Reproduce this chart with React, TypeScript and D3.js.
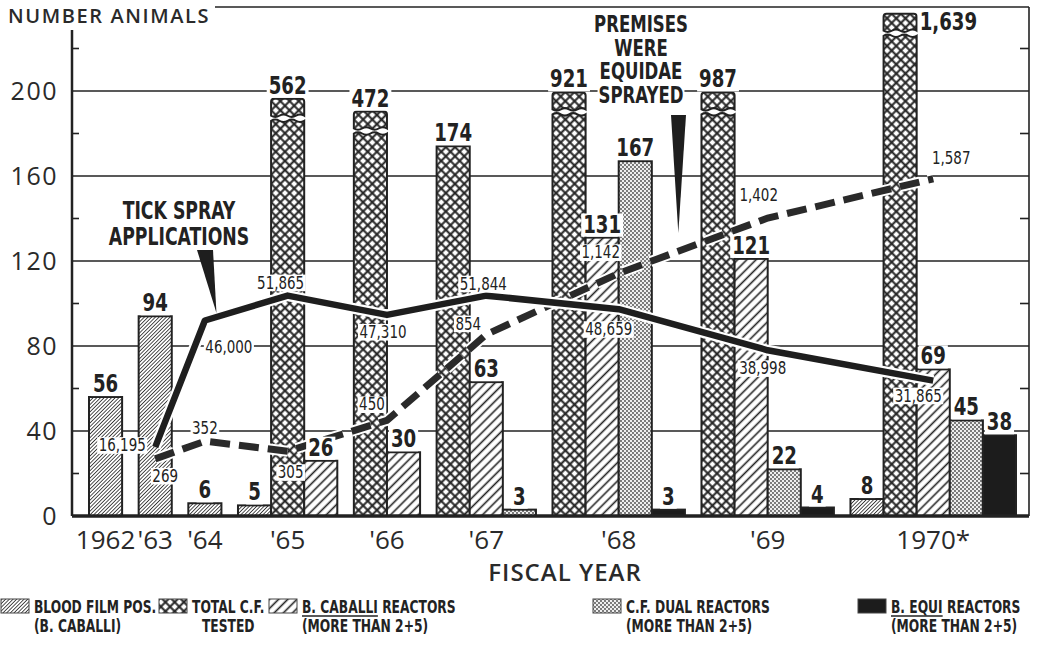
import React, { useEffect, useRef } from "react";
import * as d3 from "d3";

const W = 1062;
const H = 648;

// fiscal years on the x axis
const years = ["1962", "'63", "'64", "'65", "'66", "'67", "'68", "'69", "1970*"];

// bar series (number of animals), null = no bar that year
const bloodFilmPos = [56, 94, 6, 5, null, null, null, null, 8];
const totalCFTested = [null, null, null, 562, 472, 174, 921, 987, 1639];
// visible height (axis units) where the off-scale C.F. bars are broken
const totalCFBreak = [null, null, null, 186, 180, null, 189, 189, 226];
const caballiReactors = [null, null, null, 26, 30, 63, 131, 121, 69];
const cfDualReactors = [null, null, null, null, null, 3, 167, 22, 45];
const equiReactors = [null, null, null, null, null, null, 3, 4, 38];

// line series, plotted on their own scales
const tickSprayApps = [null, 16195, 46000, 51865, 47310, 51844, 48659, 38998, 31865];
const premisesSprayed = [null, 269, 352, 305, 450, 854, 1142, 1402, 1587];
const sprayPerUnit = 500;
const premisesPerUnit = 10;

const yTicks = [0, 40, 80, 120, 160, 200];
const yMinorTicks = [20, 60, 100, 140, 180, 220];

// label placement around the line points (dx, dy from the point)
const sprayLabelOffset = [null, [-33, -2], [24, 26], [-7, -13], [-4, 17], [-3, -12], [-10, 20], [-5, 18], [-15, 15]];
const premisesLabelOffset = [null, [10, 17], [0, -13], [3, 21], [-15, -16], [-18, -11], [-18, -21], [-9, -23], [18, -21]];

const INK = "#222";
const NARROW = "'DejaVu Sans Condensed', 'DejaVu Sans', sans-serif";
const ROUND = "'Open Sans', 'DejaVu Sans', sans-serif";

const series = [
  { key: "blood", values: bloodFilmPos, fill: "url(#p-blood)", label: ["BLOOD FILM POS.", "(B. CABALLI)"], under: 0 },
  { key: "cf", values: totalCFTested, fill: "url(#p-cf)", label: ["TOTAL C.F.", "TESTED"], under: 0 },
  { key: "cab", values: caballiReactors, fill: "url(#p-cab)", label: ["B. CABALLI REACTORS", "(MORE THAN 2+5)"], under: 10 },
  { key: "dual", values: cfDualReactors, fill: "url(#p-dual)", label: ["C.F. DUAL REACTORS", "(MORE THAN 2+5)"], under: 0 },
  { key: "equi", values: equiReactors, fill: "#1c1c1c", label: ["B. EQUI REACTORS", "(MORE THAN 2+5)"], under: 7 },
];
const legendX = [0, 158, 268, 592, 857];

// squeeze a text horizontally (the original uses a condensed gothic face)
const squeeze = (t: any, k: number) => {
  const node = t.node() as SVGTextElement;
  const len = node.getComputedTextLength();
  t.attr("textLength", len * k).attr("lengthAdjust", "spacingAndGlyphs");
  return len * k;
};

export default function App() {
  const ref = useRef<SVGSVGElement | null>(null);

  useEffect(() => {
    if (!ref.current) return;
    document.body.style.margin = "0";
    const svg = d3.select(ref.current);
    svg.selectAll("*").remove();

    const left = 72;
    const right = 1029;
    const top = 7;
    const base = 516;

    const y = d3.scaleLinear().domain([0, 200]).range([base, 91]);

    // lay bars out in half-bar units: bars of a year touch, years are half a bar apart
    const bars: any[] = [];
    const groupMid: number[] = [];
    let u = 0;
    years.forEach((yr, i) => {
      const present = series.filter((s) => s.values[i] != null);
      present.forEach((s, j) => bars.push({ i, s, value: s.values[i] as number, unit: u + 2 * j }));
      groupMid.push(u + present.length);
      u += 2 * present.length + 1;
    });
    const x = d3.scaleLinear().domain([0, u - 1]).range([89, 1016]);
    const bw = x(2) - x(0);

    // patterns
    const defs = svg.append("defs");
    const hatch = (id: string, d: number, sw: number, cross: boolean) => {
      const p = defs
        .append("pattern")
        .attr("id", id)
        .attr("patternUnits", "userSpaceOnUse")
        .attr("width", d)
        .attr("height", d)
        .attr("patternTransform", "rotate(45)");
      p.append("rect").attr("width", d).attr("height", d).attr("fill", "#fff");
      p.append("line").attr("x1", d / 2).attr("x2", d / 2).attr("y1", 0).attr("y2", d).attr("stroke", INK).attr("stroke-width", sw);
      if (cross)
        p.append("line").attr("y1", d / 2).attr("y2", d / 2).attr("x1", 0).attr("x2", d).attr("stroke", INK).attr("stroke-width", sw);
    };
    hatch("p-blood", 2.6, 0.8, false);
    hatch("p-cab", 6.5, 1.6, false);
    hatch("p-cf", 6.5, 2, true);
    const dots = defs.append("pattern").attr("id", "p-dual").attr("patternUnits", "userSpaceOnUse").attr("width", 4).attr("height", 4);
    dots.append("rect").attr("width", 4).attr("height", 4).attr("fill", "#eee");
    dots.append("circle").attr("cx", 1).attr("cy", 1).attr("r", 0.9).attr("fill", "#444");
    dots.append("circle").attr("cx", 3).attr("cy", 3).attr("r", 0.9).attr("fill", "#444");

    svg.append("rect").attr("width", W).attr("height", H).attr("fill", "#fff");

    // gridlines
    svg
      .append("g")
      .selectAll("line")
      .data(yTicks.filter((t) => t > 0))
      .join("line")
      .attr("x1", left)
      .attr("x2", right)
      .attr("y1", (d) => y(d))
      .attr("y2", (d) => y(d))
      .attr("stroke", INK)
      .attr("stroke-width", 1.6);

    // bars
    const gBars = svg.append("g").attr("stroke", INK).attr("stroke-width", 2);
    const wavy = (x0: number, x1: number, yy: number, a: number) => {
      const w = x1 - x0;
      return `Q${x0 + w / 8},${yy - a} ${x0 + w / 4},${yy} T${x0 + w / 2},${yy} T${x0 + (3 * w) / 4},${yy} T${x1},${yy}`;
    };
    const barTops: any[] = [];
    bars.forEach((b) => {
      const x0 = x(b.unit);
      const x1 = x0 + bw;
      const brk = b.s.key === "cf" ? totalCFBreak[b.i] : null;
      if (brk != null) {
        const yt = y(brk);
        gBars.append("path").attr("fill", b.s.fill).attr("d", `M${x0},${base}L${x0},${yt}${wavy(x0, x1, yt, 2.5)}L${x1},${base}Z`);
        const cb = yt - 5;
        const ct = cb - 17;
        const r = 3;
        gBars
          .append("path")
          .attr("fill", b.s.fill)
          .attr("d", `M${x1},${cb}${wavy(x1, x0, cb, 2.5)}L${x0},${ct + r}Q${x0},${ct} ${x0 + r},${ct}L${x1 - r},${ct}Q${x1},${ct} ${x1},${ct + r}Z`);
        barTops.push({ b, cx: x0 + bw / 2, x1, top: ct });
      } else {
        gBars
          .append("rect")
          .attr("x", x0)
          .attr("y", y(b.value))
          .attr("width", bw)
          .attr("height", base - y(b.value))
          .attr("fill", b.s.fill);
        barTops.push({ b, cx: x0 + bw / 2, x1, top: y(b.value) });
      }
    });

    // lines
    const line = d3
      .line<any>()
      .defined((d) => d != null)
      .x((d) => d[0])
      .y((d) => d[1]);
    const sprayPts = tickSprayApps.map((v, i) => (v == null ? null : [x(groupMid[i]), y(v / sprayPerUnit)]));
    const premPts = premisesSprayed.map((v, i) => (v == null ? null : [x(groupMid[i]), y(v / premisesPerUnit)]));
    const gLines = svg.append("g").attr("fill", "none");
    gLines.append("path").attr("d", line(premPts)).attr("stroke", "#fff").attr("stroke-width", 11).attr("stroke-dasharray", "20 9");
    gLines.append("path").attr("d", line(premPts)).attr("stroke", "#2a2a2a").attr("stroke-width", 7).attr("stroke-dasharray", "20 9");
    gLines.append("path").attr("d", line(sprayPts)).attr("stroke", "#fff").attr("stroke-width", 11).attr("stroke-linejoin", "round");
    gLines.append("path").attr("d", line(sprayPts)).attr("stroke", "#1e1e1e").attr("stroke-width", 6.5).attr("stroke-linejoin", "round");

    // text with white box behind it
    const boxed = (txt: string, tx: number, ty: number, anchor: string, size: number, weight: string, k: number, pad = 2) => {
      const g = svg.append("g");
      const t = g
        .append("text")
        .attr("x", tx)
        .attr("y", ty)
        .attr("text-anchor", anchor)
        .attr("font-family", NARROW)
        .attr("font-size", size)
        .attr("font-weight", weight)
        .attr("fill", INK)
        .text(txt);
      squeeze(t, k);
      const bb = (t.node() as SVGTextElement).getBBox();
      g.insert("rect", "text")
        .attr("x", bb.x - pad)
        .attr("y", bb.y + size * 0.12)
        .attr("width", bb.width + 2 * pad)
        .attr("height", bb.height - size * 0.2)
        .attr("fill", "#fff");
      return t;
    };

    // bar value labels
    const fmt = d3.format(",");
    barTops.forEach(({ b, cx, x1, top: t }) => {
      if (t - 24 < top + 4) boxed(fmt(b.value), x1 + 3, t + 16, "start", 24, "bold", 0.84);
      else boxed(fmt(b.value), cx, t - 5, "middle", 24, "bold", 0.84);
    });

    // line value labels
    const lineLabels = (vals: (number | null)[], pts: any[], offs: any[]) =>
      vals.forEach((v, i) => {
        if (v == null) return;
        const [dx, dy] = offs[i];
        boxed(fmt(v), pts[i][0] + dx, pts[i][1] + dy + 6, "middle", 17, "normal", 0.88, 1.5);
      });
    lineLabels(tickSprayApps, sprayPts, sprayLabelOffset);
    lineLabels(premisesSprayed, premPts, premisesLabelOffset);

    // annotations with pointers
    const ann = (lines: string[], cx: number, y0: number, step: number, size: number) =>
      lines.forEach((l, k) => boxed(l, cx, y0 + k * step, "middle", size, "bold", 0.8, 1));
    ann(["TICK SPRAY", "APPLICATIONS"], 179, 219, 26, 24);
    ann(["PREMISES", "WERE", "EQUIDAE", "SPRAYED"], 641, 32, 23.5, 23);

    const along = (pts: any[], i: number, t: number) => [
      pts[i][0] + (pts[i + 1][0] - pts[i][0]) * t,
      pts[i][1] + (pts[i + 1][1] - pts[i][1]) * t,
    ];
    const tip1 = along(sprayPts, 2, 0.14);
    const tip2 = along(premPts, 6, 0.4);
    svg
      .append("path")
      .attr("fill", "#1e1e1e")
      .attr("d", `M197,250L213,250L${tip1[0]},${tip1[1] - 4}Z`);
    svg
      .append("path")
      .attr("fill", "#1e1e1e")
      .attr("d", `M671,115L686,115L${tip2[0]},${tip2[1] - 18}Z`);

    // axes and frame
    const frame = svg.append("g").attr("stroke", INK).attr("fill", "none");
    frame.append("line").attr("x1", left).attr("x2", left).attr("y1", 30).attr("y2", base).attr("stroke-width", 2.5);
    frame.append("line").attr("x1", 215).attr("x2", right).attr("y1", top).attr("y2", top).attr("stroke-width", 1.6);
    frame.append("line").attr("x1", right).attr("x2", right).attr("y1", top).attr("y2", base).attr("stroke-width", 1.6);
    frame.append("line").attr("x1", left).attr("x2", right).attr("y1", base).attr("y2", base).attr("stroke-width", 3.5);
    frame
      .selectAll(".tl")
      .data(yMinorTicks)
      .join("line")
      .attr("x1", left)
      .attr("x2", left + 7)
      .attr("y1", (d) => y(d))
      .attr("y2", (d) => y(d))
      .attr("stroke-width", 1.6);
    frame
      .selectAll(".tr")
      .data(yMinorTicks)
      .join("line")
      .attr("x1", right - 9)
      .attr("x2", right)
      .attr("y1", (d) => y(d))
      .attr("y2", (d) => y(d))
      .attr("stroke-width", 1.6);

    const axisText = svg.append("g").attr("font-family", ROUND).attr("fill", "#2a2a2a");
    axisText
      .selectAll(".yl")
      .data(yTicks)
      .join("text")
      .attr("x", 58)
      .attr("y", (d) => y(d) + 9)
      .attr("text-anchor", "end")
      .attr("font-size", 25)
      .attr("letter-spacing", 1.5)
      .text((d) => d);
    axisText
      .selectAll(".xl")
      .data(years)
      .join("text")
      .attr("x", (d, i) => x(groupMid[i]))
      .attr("y", 549)
      .attr("text-anchor", "middle")
      .attr("font-size", 26)
      .text((d) => d);
    axisText
      .append("text")
      .attr("x", 8)
      .attr("y", 23)
      .attr("font-size", 20)
      .attr("font-weight", 600)
      .attr("letter-spacing", 1.6)
      .text("NUMBER ANIMALS");
    axisText
      .append("text")
      .attr("x", 565)
      .attr("y", 581)
      .attr("text-anchor", "middle")
      .attr("font-size", 24)
      .attr("font-weight", 600)
      .attr("letter-spacing", 1)
      .text("FISCAL YEAR");

    // legend
    const k = 0.78;
    const gLeg = svg.append("g").attr("font-family", NARROW).attr("font-weight", "bold").attr("font-size", 17.5).attr("fill", INK);
    series.forEach((s, j) => {
      const lx = legendX[j];
      const tx = lx + 34;
      gLeg.append("rect").attr("x", lx + 1).attr("y", 599).attr("width", 28).attr("height", 14).attr("fill", s.fill).attr("stroke", "#444").attr("stroke-width", 1);
      const t1 = gLeg.append("text").attr("x", tx).attr("y", 613).text(s.label[0]);
      const node = t1.node() as SVGTextElement;
      const full = node.getComputedTextLength();
      const under = s.under > 0 ? node.getSubStringLength(0, s.under) / full : 0;
      const w1 = squeeze(t1, k);
      if (s.key === "cf") {
        squeeze(gLeg.append("text").attr("x", tx + w1 / 2).attr("y", 632).attr("text-anchor", "middle").text(s.label[1]), k);
      } else {
        squeeze(gLeg.append("text").attr("x", tx).attr("y", 632).text(s.label[1]), k);
      }
      if (under > 0) {
        gLeg
          .append("line")
          .attr("x1", tx)
          .attr("x2", tx + under * w1)
          .attr("y1", 616)
          .attr("y2", 616)
          .attr("stroke", INK)
          .attr("stroke-width", 1.3);
      }
    });
  }, []);

  return <svg ref={ref} width={W} height={H} style={{ display: "block", background: "#fff" }} />;
}
